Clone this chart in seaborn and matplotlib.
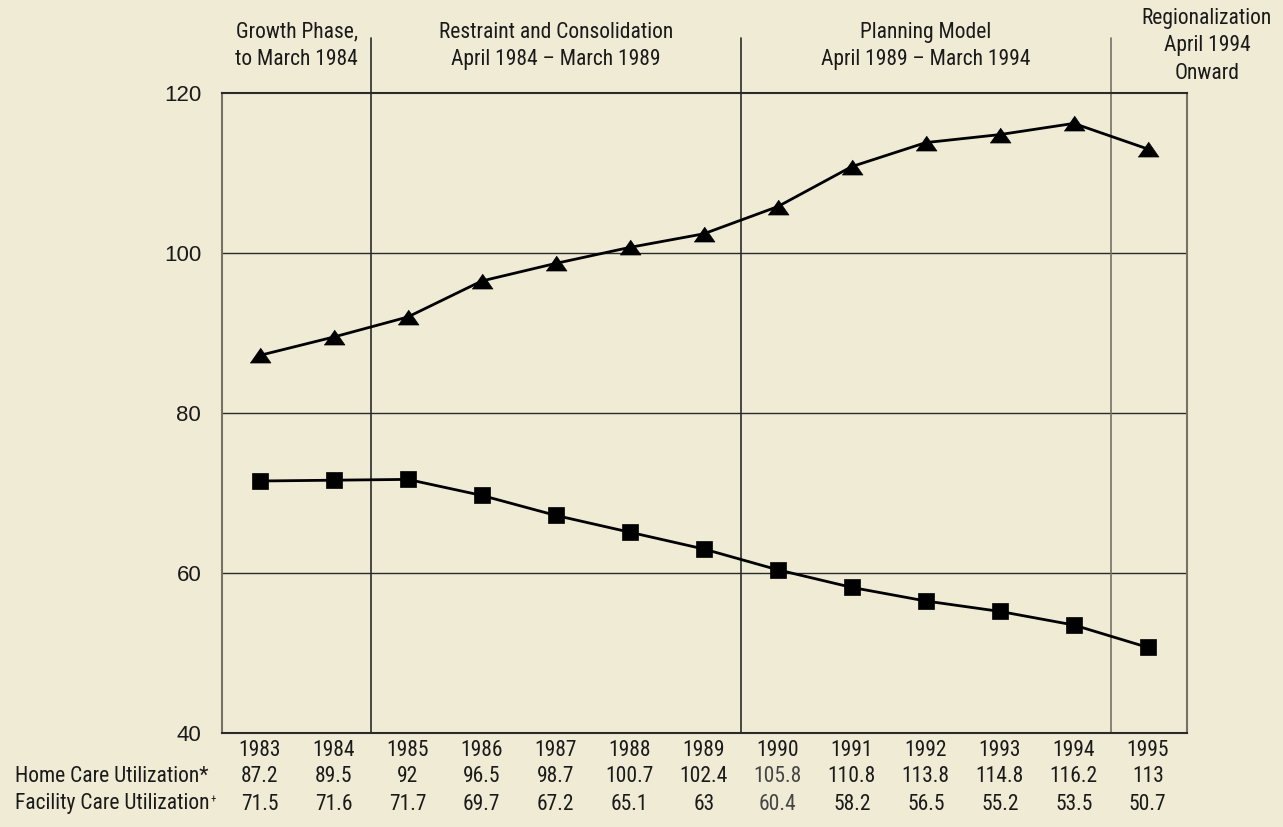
import matplotlib
matplotlib.use("Agg")
import matplotlib.pyplot as plt
import matplotlib.transforms as mtransforms
from matplotlib import font_manager as fm
import seaborn as sns

years = [1983, 1984, 1985, 1986, 1987, 1988, 1989, 1990, 1991, 1992, 1993, 1994, 1995]
home_care = [87.2, 89.5, 92, 96.5, 98.7, 100.7, 102.4, 105.8, 110.8, 113.8, 114.8, 116.2, 113]
facility_care = [71.5, 71.6, 71.7, 69.7, 67.2, 65.1, 63, 60.4, 58.2, 56.5, 55.2, 53.5, 50.7]
home_labels = ["87.2", "89.5", "92", "96.5", "98.7", "100.7", "102.4", "105.8", "110.8", "113.8", "114.8", "116.2", "113"]
facility_labels = ["71.5", "71.6", "71.7", "69.7", "67.2", "65.1", "63", "60.4", "58.2", "56.5", "55.2", "53.5", "50.7"]
row_labels = ["Home Care Utilization*", "Facility Care Utilization"]
phase_bounds = [1984.5, 1989.5, 1994.5]
phase_labels = [
    (1983.5, "Growth Phase,\nto March 1984"),
    (1987.0, "Restraint and Consolidation\nApril 1984 \u2013 March 1989"),
    (1992.0, "Planning Model\nApril 1989 \u2013 March 1994"),
    (1995.8, "Regionalization\nApril 1994\nOnward"),
]

BG = "#efebd5"
INK = "#1a1a1a"

# pick a condensed face if one is installed
names = {f.name for f in fm.fontManager.ttflist}
stretch = "normal"
narrow = "DejaVu Sans"
for cand in ["Roboto Condensed", "Liberation Sans Narrow", "Open Sans Condensed",
             "Noto Sans Condensed"]:
    if cand in names:
        narrow = cand
        break
else:
    if any(f.name == "DejaVu Sans" and f.stretch == "condensed" for f in fm.fontManager.ttflist):
        stretch = "condensed"
NARROW = [narrow, "DejaVu Sans"]

sns.set_theme(style="white")
plt.rcParams["font.family"] = NARROW
plt.rcParams["font.stretch"] = stretch

fig = plt.figure(figsize=(12.83, 8.27), dpi=100, facecolor=BG)

# keep the row label from running into the 1983 column (~205 px wide max)
probe = fig.text(0, 0, row_labels[0], fontsize=15.5)
fig.canvas.draw()
w = probe.get_window_extent().width
probe.remove()
k = min(1.0, 205.0 / w)
FS = 15.5 * k
FS_PHASE = 15.5 * k

ax = fig.add_axes([222 / 1283, 1 - 733 / 827, 965 / 1283, 640 / 827])
ax.set_facecolor(BG)
ax.set_xlim(1982.49, 1995.53)
ax.set_ylim(40, 120)

for y in [60, 80, 100]:
    ax.axhline(y, color="#2a2a2a", linewidth=1, zorder=1)

top = (733 - 38) / 640
for i, xb in enumerate(phase_bounds):
    ax.axvline(xb, ymin=0, ymax=top, color="#2a2a2a" if i < 2 else "#777064",
               linewidth=1.2, clip_on=False, zorder=1)

tri = [(-1, -0.72), (1, -0.72), (0, 0.72)]
sns.lineplot(x=years, y=home_care, ax=ax, color="black", linewidth=2,
             marker=tri, markersize=15, markeredgecolor="black",
             markeredgewidth=0.5, zorder=3)
sns.lineplot(x=years, y=facility_care, ax=ax, color="black", linewidth=2,
             marker="s", markersize=11.5, markeredgecolor="black",
             markeredgewidth=0.5, zorder=3)

ax.set_xticks([])
ax.set_yticks([40, 60, 80, 100, 120])
ax.tick_params(axis="y", direction="out", length=10, width=1, color="#2a2a2a",
               pad=5, labelsize=16, labelcolor=INK)
for lab in ax.get_yticklabels():
    lab.set_fontfamily(["Liberation Sans", "DejaVu Sans"])
    lab.set_fontstretch("normal")
ax.set_xlabel("")
ax.set_ylabel("")

ax.spines["left"].set_color("#777064")
ax.spines["right"].set_color("#777064")
ax.spines["top"].set_color("#2a2a2a")
ax.spines["bottom"].set_color("#2a2a2a")
for s in ax.spines.values():
    s.set_linewidth(1.5)
    s.set_visible(True)

for xc, txt in phase_labels:
    ax.text(xc, (733 - 46) / 640, txt, transform=ax.get_xaxis_transform(),
            ha="center", va="center", fontsize=FS_PHASE, color=INK,
            linespacing=1.4, clip_on=False)

trans = mtransforms.blended_transform_factory(ax.transData, fig.transFigure)
rows_y = [1 - 750 / 827, 1 - 777 / 827, 1 - 804 / 827]
for i, yr in enumerate(years):
    c = "#454545" if yr == 1990 else INK
    ax.text(yr, rows_y[0], str(yr), transform=trans, ha="center", va="center",
            fontsize=FS, color=INK)
    ax.text(yr, rows_y[1], home_labels[i], transform=trans, ha="center",
            va="center", fontsize=FS, color=c)
    ax.text(yr, rows_y[2], facility_labels[i], transform=trans, ha="center",
            va="center", fontsize=FS, color=c)

fig.text(15 / 1283, rows_y[1], row_labels[0], ha="left", va="center",
         fontsize=FS, color=INK)
t = fig.text(15 / 1283, rows_y[2], row_labels[1], ha="left", va="center",
             fontsize=FS, color=INK)
fig.canvas.draw()
bb = t.get_window_extent()
fig.text(bb.x1 / fig.bbox.width + 0.001, rows_y[2] + 0.006, "+", ha="left",
         va="center", fontsize=FS * 0.5, color=INK)

fig.savefig("out.png", dpi=100, facecolor=BG)
plt.close(fig)
